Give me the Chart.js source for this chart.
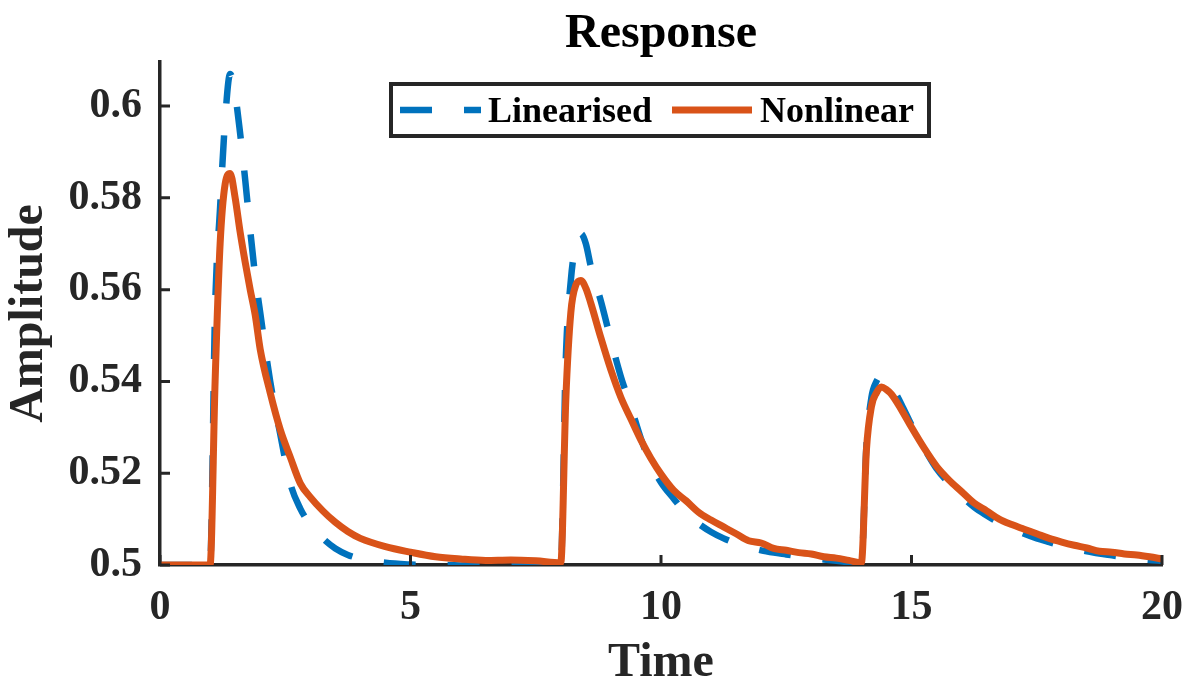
<!DOCTYPE html>
<html>
<head>
<meta charset="utf-8">
<script src="https://cdn.jsdelivr.net/npm/chart.js@4/dist/chart.umd.min.js"></script>
<style>
  html, body { margin: 0; padding: 0; background: #fff; overflow: hidden; }
  #response-chart { display: block; }
</style>
</head>
<body>
<canvas id="response-chart" width="1191" height="687"></canvas>
<script>
// sample times shared by both responses
const time = [
  0, 1.0, 1.1, 1.2, 1.3, 1.4, 1.5, 1.6, 1.7, 1.8, 1.9, 2.0, 2.2, 2.4, 2.6, 2.8, 3.0, 3.25, 3.5, 3.75,
  4.0, 4.5, 5.0, 5.5, 6.0, 6.5, 7.0, 7.5, 8.0, 8.1, 8.2, 8.3, 8.4, 8.5, 8.6, 8.8, 9.0, 9.2, 9.4, 9.6,
  9.8, 10.0, 10.25, 10.5, 10.75, 11.0, 11.25, 11.5, 11.75, 12.0, 12.25, 12.5, 12.75, 13.0, 13.25, 13.5,
  13.75, 14.0, 14.1, 14.2, 14.3, 14.4, 14.5, 14.6, 14.8, 15.0, 15.25, 15.5, 15.75, 16.0, 16.25, 16.5,
  16.75, 17.0, 17.25, 17.5, 17.75, 18.0, 18.25, 18.5, 18.75, 19.0, 19.25, 19.5, 19.75, 20.0
];

const linearised = [
  0.5, 0.5, 0.556, 0.578, 0.597, 0.607, 0.6025, 0.594, 0.584, 0.573, 0.563, 0.555, 0.540, 0.5285, 0.5178, 0.5123, 0.5088, 0.5058, 0.5036, 0.5022,
  0.5014, 0.5005, 0.5001, 0.4999, 0.4999, 0.4999, 0.4999, 0.4999, 0.5, 0.545, 0.562, 0.570, 0.5722, 0.570, 0.565, 0.5575, 0.549, 0.541, 0.5345, 0.5275,
  0.522, 0.518, 0.5145, 0.5112, 0.509, 0.5072, 0.5058, 0.5047, 0.5039, 0.5032, 0.5027, 0.5023, 0.5019, 0.5015, 0.5012, 0.5009,
  0.5006, 0.5004, 0.526, 0.5365, 0.540, 0.5412, 0.5405, 0.539, 0.535, 0.5305, 0.5255, 0.521, 0.5178, 0.515, 0.5126, 0.5108,
  0.5092, 0.508, 0.5068, 0.5058, 0.505, 0.5042, 0.5035, 0.503, 0.5025, 0.5021, 0.5017, 0.5014, 0.5011, 0.5009
];

const nonlinear = [
  0.5, 0.5, 0.540, 0.570, 0.583, 0.5853, 0.580, 0.5725, 0.566, 0.560, 0.5545, 0.547, 0.5375, 0.5295, 0.5235, 0.5178, 0.5148, 0.5118, 0.5093, 0.5073,
  0.5058, 0.504, 0.5028, 0.5018, 0.5013, 0.501, 0.5011, 0.5009, 0.5005, 0.536, 0.555, 0.561, 0.562, 0.5603, 0.557, 0.5495, 0.5425, 0.5365, 0.5318, 0.5272,
  0.5232, 0.5198, 0.5163, 0.514, 0.5115, 0.5098, 0.5083, 0.5068, 0.5053, 0.5048, 0.5036, 0.5032, 0.5027, 0.5024, 0.5018, 0.5015,
  0.501, 0.5005, 0.525, 0.5345, 0.5375, 0.5388, 0.5382, 0.5372, 0.5338, 0.530, 0.5255, 0.5215, 0.5185, 0.516, 0.5135, 0.5118,
  0.510, 0.5088, 0.5078, 0.5068, 0.5058, 0.505, 0.5043, 0.5037, 0.503, 0.5028, 0.5024, 0.5022, 0.5018, 0.5013
];

const xTicks = [0, 5, 10, 15, 20];
const yTicks = [0.5, 0.52, 0.54, 0.56, 0.58, 0.6];
const yTickLabels = ['0.5', '0.52', '0.54', '0.56', '0.58', '0.6'];

const AXIS = '#262626';
const SERIF = '"Liberation Serif", "Times New Roman", serif';

function points(ys) {
  return time.map((t, i) => ({ x: t, y: ys[i] }));
}

// ticks pointing into the plot, title and boxed legend
const decorPlugin = {
  id: 'decor',
  afterDraw(chart) {
    const ctx = chart.ctx;
    const area = chart.chartArea;
    const xs = chart.scales.x;
    const ys = chart.scales.y;
    ctx.save();
    ctx.strokeStyle = AXIS;
    ctx.lineWidth = 3;
    ctx.beginPath();
    xTicks.forEach(v => {
      const px = xs.getPixelForValue(v);
      ctx.moveTo(px, area.bottom);
      ctx.lineTo(px, area.bottom - 10);
    });
    yTicks.forEach(v => {
      const py = ys.getPixelForValue(v);
      ctx.moveTo(area.left, py);
      ctx.lineTo(area.left + 10, py);
    });
    ctx.stroke();

    // title
    ctx.fillStyle = '#000';
    ctx.font = 'bold 48px ' + SERIF;
    ctx.textAlign = 'center';
    ctx.textBaseline = 'alphabetic';
    ctx.fillText('Response', (area.left + area.right) / 2, 47);

    // legend
    const bx = 391, by = 84, bw = 538, bh = 52;
    ctx.fillStyle = '#fff';
    ctx.fillRect(bx, by, bw, bh);
    ctx.lineWidth = 4;
    ctx.strokeStyle = AXIS;
    ctx.strokeRect(bx, by, bw, bh);

    const midY = by + bh / 2;
    const items = chart.data.datasets;
    const layout = [
      { x0: 400, x1: 481, tx: 488 },
      { x0: 672, x1: 752, tx: 760 }
    ];
    ctx.font = 'bold 36px ' + SERIF;
    ctx.textAlign = 'left';
    items.forEach((ds, i) => {
      const l = layout[i];
      ctx.beginPath();
      ctx.strokeStyle = ds.borderColor;
      ctx.lineWidth = ds.borderWidth;
      ctx.lineCap = 'butt';
      ctx.setLineDash(ds.borderDash || []);
      ctx.moveTo(l.x0, midY);
      ctx.lineTo(l.x1, midY);
      ctx.stroke();
      ctx.setLineDash([]);
      ctx.fillStyle = '#000';
      ctx.fillText(ds.label, l.tx, midY + 12);
    });
    ctx.restore();
  }
};

new Chart(document.getElementById('response-chart'), {
  type: 'line',
  data: {
    datasets: [
      {
        label: 'Linearised',
        data: points(linearised),
        borderColor: '#0072BD',
        borderWidth: 6.5,
        borderDash: [32, 32],
        borderCapStyle: 'butt',
        cubicInterpolationMode: 'monotone',
        pointRadius: 0,
        fill: false,
        order: 2
      },
      {
        label: 'Nonlinear',
        data: points(nonlinear),
        borderColor: '#D95319',
        borderWidth: 7,
        borderJoinStyle: 'round',
        cubicInterpolationMode: 'monotone',
        pointRadius: 0,
        fill: false,
        order: 1
      }
    ]
  },
  options: {
    responsive: false,
    animation: false,
    devicePixelRatio: 1,
    layout: { padding: { top: 62, right: 29, bottom: 0, left: 0 } },
    plugins: {
      legend: { display: false },
      title: { display: false },
      tooltip: { enabled: false }
    },
    scales: {
      x: {
        type: 'linear',
        min: 0,
        max: 20,
        afterFit: s => {
          s.height = 122;
          s.paddingLeft = 0;
          s.paddingRight = 0;
        },
        afterBuildTicks: s => { s.ticks = xTicks.map(v => ({ value: v })); },
        grid: { display: false, drawTicks: false },
        border: { display: true, color: AXIS, width: 3.5 },
        ticks: {
          color: AXIS,
          padding: 18,
          maxRotation: 0,
          font: { family: SERIF, size: 42, weight: 'bold' }
        },
        title: {
          display: true,
          text: 'Time',
          color: AXIS,
          padding: { top: 0, bottom: -1 },
          font: { family: SERIF, size: 48, weight: 'bold', lineHeight: 1 }
        }
      },
      y: {
        type: 'linear',
        min: 0.5,
        max: 0.6096,
        afterFit: s => {
          s.width = 160;
          s.paddingTop = 0;
          s.paddingBottom = 0;
        },
        afterBuildTicks: s => { s.ticks = yTicks.map(v => ({ value: v })); },
        grid: { display: false, drawTicks: false },
        border: { display: true, color: AXIS, width: 3.5 },
        ticks: {
          color: AXIS,
          padding: 18,
          font: { family: SERIF, size: 42, weight: 'bold' },
          callback: (v, i) => yTickLabels[i]
        },
        title: {
          display: true,
          text: 'Amplitude',
          color: AXIS,
          padding: { top: 6, bottom: 0 },
          font: { family: SERIF, size: 48, weight: 'bold', lineHeight: 1 }
        }
      }
    }
  },
  plugins: [decorPlugin]
});
</script>
</body>
</html>
